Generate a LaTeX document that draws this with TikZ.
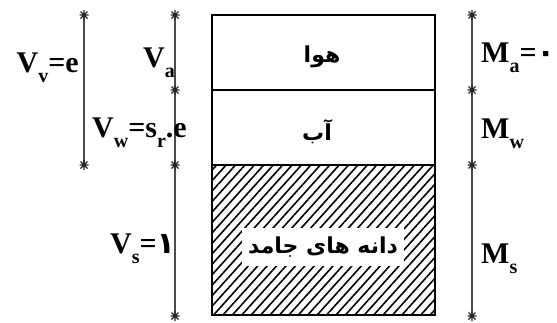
\documentclass[tikz,border=0pt]{standalone}
\usepackage{fontspec}
\setmainfont{Liberation Serif}
\newfontfamily\arabicfont[Script=Arabic]{DejaVu Sans}
\newfontfamily\arabicbold[Script=Arabic]{DejaVu Sans Bold}
\TeXXeTstate=1
\usetikzlibrary{patterns.meta}
\newcommand\lbsub[1]{\raisebox{-0.35em}{\fontsize{20}{22}\selectfont #1}}
\begin{document}
\begin{tikzpicture}[x=1pt,y=-1pt,
  lab/.style={font=\fontsize{30}{32}\selectfont\bfseries, inner sep=0pt},
  fa/.style={font=\arabicbold\fontsize{22}{25}\selectfont, inner sep=0pt},
  dim/.style={draw=black!70, line width=1.6pt},
  cell/.style={draw=black, line width=2.4pt},
  tk/.pic={\draw[black!85,line width=1.1pt] (-4.5,0)--(4.5,0) (-3.5,-3.5)--(3.5,3.5) (-3.5,3.5)--(3.5,-3.5) (0,-5)--(0,5);}]
\useasboundingbox (0,0) rectangle (557,322);
% box
\path[pattern={Lines[angle=48,distance=7pt,line width=1.6pt]}] (212,165) rectangle (435,315);
\draw[cell] (212,15) rectangle (435,315);
\draw[cell] (212,90) -- (435,90);
\draw[cell] (212,165) -- (435,165);
\node[fa] (air) at (322,57) {\beginR هوا\endR};
\node[fa] (water) at (317,132) {\beginR آب\endR};
\node[fa, fill=white, inner xsep=6pt, inner ysep=9pt] (solid) at (323,247) {\beginR دانه های جامد\endR};
% dimension lines
\coordinate (v1t) at (84,15);
\coordinate (v1b) at (84,165);
\coordinate (v2t) at (175,15);
\coordinate (v2a) at (175,90);
\coordinate (v2w) at (175,165);
\coordinate (v2b) at (175,316);
\coordinate (mt) at (472,15);
\coordinate (ma) at (472,90);
\coordinate (mw) at (472,165);
\coordinate (mb) at (472,316);
\draw[dim] (v1t) -- (v1b);
\draw[dim] (v2t) -- (v2b);
\draw[dim] (mt) -- (mb);
\foreach \c in {v1t,v1b,v2t,v2a,v2w,v2b,mt,ma,mw,mb} \pic at (\c) {tk};
% labels
\node[lab, anchor=base east] (vv) at (79,72) {V\lbsub{v}=e};
\node[lab, anchor=base west] (va) at (143,67) {V\lbsub{a}};
\node[lab, anchor=base west] (vw) at (92,137) {V\lbsub{w}=s\lbsub{r}.e};
\node[lab, anchor=base west] (vs) at (110,253) {V\lbsub{s}={\arabicfont ۱}};
\node[lab, anchor=base west] (mam) at (481,62) {M\lbsub{a}={\arabicfont ۰}};
\node[lab, anchor=base west] (mwm) at (481,138) {M\lbsub{w}};
\node[lab, anchor=base west] (msm) at (481,263) {M\lbsub{s}};
\end{tikzpicture}
\end{document}
